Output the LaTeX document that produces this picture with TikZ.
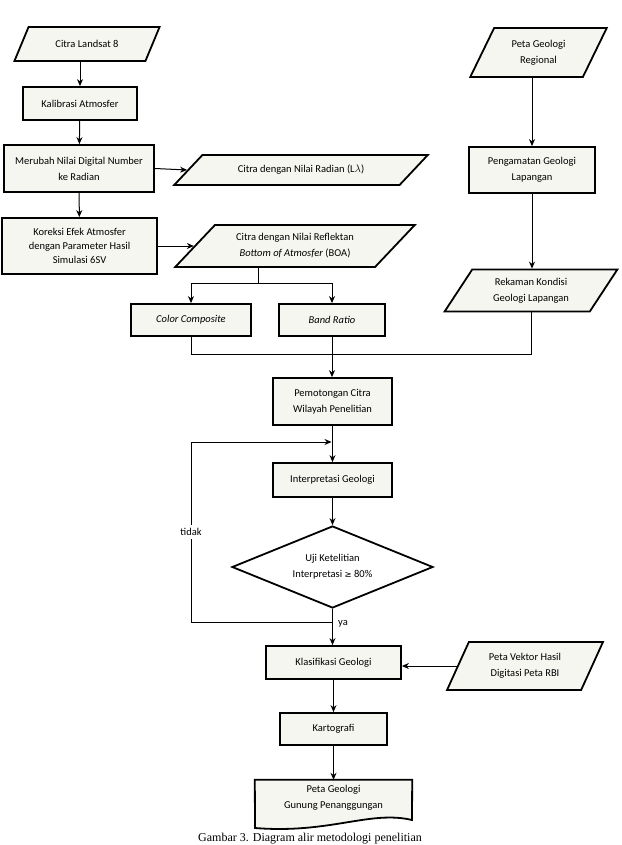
\documentclass[tikz,border=0pt]{standalone}
\usepackage{fontspec}
\setmainfont{Carlito}
\newfontfamily\capfont{Liberation Serif}
\newfontfamily\symfont{DejaVu Sans}
\usetikzlibrary{shapes.geometric,arrows.meta}
\definecolor{boxfill}{RGB}{246,246,241}
\tikzset{
  every node/.style={font=\fontsize{10.5}{16}\selectfont, align=center, inner sep=1pt},
  proc/.style={draw, line width=1.8pt, fill=boxfill, rectangle},
  para/.style={draw, line width=1.8pt, fill=boxfill, trapezium, trapezium stretches=true,
               trapezium left angle=#1, trapezium right angle=180-#1},
  dec/.style={draw, line width=1.8pt, fill=white, diamond, aspect=2.45},
  conn/.style={line width=1pt},
  arr/.style={line width=1pt, -{Stealth[length=7pt,width=6pt]}},
}
\begin{document}
\begin{tikzpicture}[x=1pt,y=-1pt]
\useasboundingbox (0,0) rectangle (621,845);
% left column
\node[para=50, minimum width=146, minimum height=34] (landsat) at (87,44) {Citra Landsat 8};
\node[proc, minimum width=114, minimum height=33] (kalib) at (80,103.5) {Kalibrasi Atmosfer};
\node[proc, minimum width=150, minimum height=47] (merubah) at (79,168.5) {Merubah Nilai Digital Number\\ke Radian};
\node[proc, minimum width=155, minimum height=56, font=\fontsize{10.5}{14}\selectfont] (koreksi) at (79.5,246) {Koreksi Efek Atmosfer\\dengan Parameter Hasil\\Simulasi 6SV};
\node[para=32, minimum width=254, minimum height=30] (radian) at (301,170) {Citra dengan Nilai Radian (L$\lambda$)};
\node[para=42, minimum width=240, minimum height=42] (reflek) at (295,246) {Citra dengan Nilai Reflektan\\\textit{Bottom of Atmosfer} (BOA)};
\node[proc, minimum width=120, minimum height=32] (cc) at (191,320) {\textit{Color Composite}};
\node[proc, minimum width=106, minimum height=32] (br) at (332,320) {\textit{Band Ratio}};
% right column
\node[para=61, minimum width=137, minimum height=49] (pgr) at (538.5,52.5) {Peta Geologi\\Regional};
\node[proc, minimum width=126, minimum height=46] (amat) at (532,170) {Pengamatan Geologi\\Lapangan};
\node[para=56, minimum width=173, minimum height=42] (rekam) at (531,290.5) {Rekaman Kondisi\\Geologi Lapangan};
% central column
\node[proc, minimum width=119, minimum height=47] (potong) at (332.5,401.5) {Pemotongan Citra\\Wilayah Penelitian};
\node[proc, minimum width=119, minimum height=34] (interp) at (332.5,480) {Interpretasi Geologi};
\node[dec, minimum width=201, minimum height=82, inner sep=0pt] (uji) at (332.5,567) {};
\node at (332.5,567) {Uji Ketelitian\\Interpretasi {\symfont\fontsize{8.5}{16}\selectfont≥} 80\%};
\node[proc, minimum width=135, minimum height=33] (klas) at (333.5,662.5) {Klasifikasi Geologi};
\node[para=62, minimum width=156, minimum height=48] (vektor) at (525,666) {Peta Vektor Hasil\\Digitasi Peta RBI};
\node[proc, minimum width=107, minimum height=32] (karto) at (333.5,729) {Kartografi};
\node[inner sep=0pt, minimum width=157, minimum height=42] (doc) at (333.5,801) {};
\draw[line width=1.8pt, fill=boxfill] (doc.north west) -- (doc.north east) -- (412,820)
  .. controls (370,810) and (330,834) .. (255,828) -- cycle;
\node at (333.5,798) {Peta Geologi\\Gunung Penanggungan};
% connectors
\draw[arr] (landsat.south -| kalib.north) -- (kalib.north);
\draw[arr] (kalib) -- (merubah);
\draw[arr] (merubah) -- (koreksi);
\draw[arr] (merubah.east) -- (radian.west);
\draw[arr] (koreksi.east |- reflek.west) -- (reflek.west);
\coordinate (split) at (258,283);
\draw[conn] (split |- reflek.south) -- (split);
\draw[arr] (split) -| (cc.north);
\draw[arr] (split) -| (br.north);
\draw[arr] (pgr.south -| amat.north) -- (amat.north);
\draw[arr] (amat) -- (rekam.north -| amat.south);
\coordinate (join) at (332,354);
\draw[conn] (cc.south) |- (join);
\draw[conn] (rekam.south) |- (join);
\draw[arr] (br.south) -- (br.south |- potong.north);
\draw[arr] (potong) -- (interp);
\draw[arr] (interp) -- (uji);
\coordinate (fbA) at (191,622);
\coordinate (fbB) at (191,442);
\draw[conn] (uji.south |- fbA) -- (fbA) -- node[fill=white, inner sep=3pt] {tidak} (fbB);
\draw[arr] (fbB) -- ([xshift=-1pt]interp.north |- fbB);
\draw[arr] (uji.south) -- (klas.north -| uji.south);
\node[anchor=west] at (337,624) {ya};
\draw[arr] (vektor.west) -- (klas.east |- vektor.west);
\draw[arr] (klas) -- (karto);
\draw[arr] (karto) -- (doc.north -| karto.south);
% caption
\node[font=\capfont\fontsize{12}{14}\selectfont, anchor=base] (cap) at (310,841) {Gambar 3. Diagram alir metodologi penelitian};
\end{tikzpicture}
\end{document}
